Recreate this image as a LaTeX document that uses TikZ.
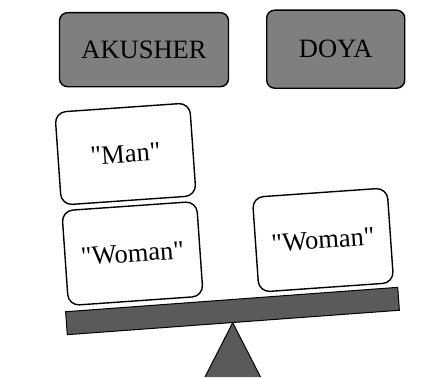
\documentclass[tikz,border=0pt]{standalone}
\usepackage{fontspec}
\setmainfont{Liberation Serif}
\newfontfamily\timesf{Liberation Serif}
\definecolor{boxgray}{HTML}{7F7F7F}
\definecolor{beamgray}{HTML}{5A5A5A}
\begin{document}
\begin{tikzpicture}[x=1pt,y=-1pt,
  role/.style={draw=black, line width=1.4pt, rounded corners=8pt, fill=boxgray,
    font=\timesf\fontsize{26.5}{30}\selectfont, inner sep=0pt},
  card/.style={draw=black, line width=1.4pt, rounded corners=11pt, fill=white,
    minimum width=135pt, minimum height=93pt, rotate=4,
    font=\timesf\fontsize{26.5}{30}\selectfont, inner sep=0pt},
  beam/.style={draw=black, line width=1pt, fill=beamgray,
    minimum width=333pt, minimum height=23pt, rotate=4.2, inner sep=0pt},
  fulcrum/.style={draw=black, line width=1pt}]
\useasboundingbox (0,0) rectangle (443,377);
\fill[white] (0,0) rectangle (443,377);
% fulcrum
\coordinate (apex) at (232.7,322.7);
\coordinate (fl) at (205,377);
\coordinate (fr) at (260.5,377);
\fill[beamgray] (fl) -- (apex) -- (fr) -- cycle;
\draw[fulcrum] (fl) -- (apex) -- (fr);
% beam
\node[beam] (bar) at (232.5,311) {};
% role boxes
\node[role, minimum width=169pt, minimum height=74pt] (akusher) at (144,49.7) {AKUSHER};
\node[role, minimum width=138pt, minimum height=78pt] (doya) at (335.7,49.2) {DOYA};
% cards
\node[card] (man) at (125.5,154) {\textquotedbl Man\textquotedbl};
\node[card, minimum height=95pt] (womanL) at (132.5,253.5) {\textquotedbl Woman\textquotedbl};
\node[card, minimum height=95pt] (womanR) at (323,240) {\textquotedbl Woman\textquotedbl};
\end{tikzpicture}
\end{document}
